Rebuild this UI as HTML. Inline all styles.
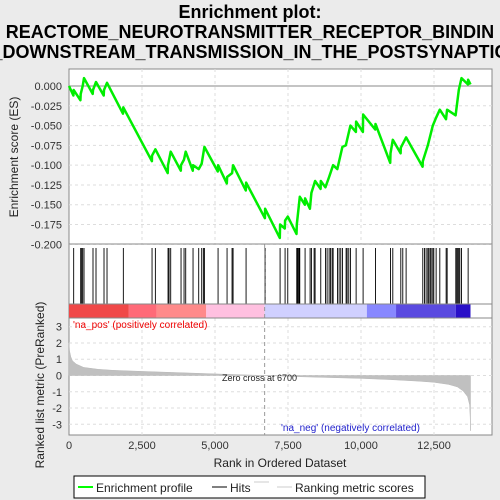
<!DOCTYPE html>
<html><head><meta charset="utf-8"><style>
html,body{margin:0;padding:0;background:#ebebeb;}
svg{display:block;font-family:"Liberation Sans",sans-serif;}
</style></head><body>
<svg id="chart" width="500" height="500" xmlns="http://www.w3.org/2000/svg">
<rect x="0" y="0" width="500" height="500" fill="#ebebeb"/>
<g font-weight="bold" font-size="18" text-anchor="middle" fill="#000">
<text x="250" y="18">Enrichment plot:</text>
<text x="250" y="38">REACTOME_NEUROTRANSMITTER_RECEPTOR_BINDIN</text>
<text x="250" y="58">_DOWNSTREAM_TRANSMISSION_IN_THE_POSTSYNAPTIC</text>
</g>
<rect x="69" y="69" width="423" height="366" fill="#fff" stroke="#888"/>
<g id="grid"></g>
<g id="es"></g>
<g id="hits"></g>
<g id="cbar"></g>
<g id="metric"></g>
<g id="axes" font-size="11" fill="#333"></g>
<line x1="69" y1="244" x2="492" y2="244" stroke="#888"/>
<line x1="69" y1="304" x2="492" y2="304" stroke="#888"/>
<line x1="69" y1="318" x2="492" y2="318" stroke="#888"/>
<text x="18" y="157" transform="rotate(-90 18 157)" font-size="12" text-anchor="middle" fill="#222">Enrichment score (ES)</text>
<text x="44" y="385" transform="rotate(-90 44 385)" font-size="12" text-anchor="middle" fill="#222">Ranked list metric (PreRanked)</text>
<text x="280" y="467" font-size="12" text-anchor="middle" fill="#222">Rank in Ordered Dataset</text>
<text x="73" y="328" font-size="10" fill="#e00">'na_pos' (positively correlated)</text>
<text x="281" y="431" font-size="10" fill="#22c">'na_neg' (negatively correlated)</text>
<text x="222" y="381" font-size="9" fill="#222">Zero cross at 6700</text>
<g>
<rect x="74" y="476" width="351" height="22" fill="#fff" stroke="#000"/>
<line x1="78" y1="487" x2="93" y2="487" stroke="#0f0" stroke-width="2"/>
<text x="96" y="492" font-size="12" fill="#222">Enrichment profile</text>
<line x1="212" y1="487" x2="227" y2="487" stroke="#000"/>
<text x="230" y="492" font-size="12" fill="#222">Hits</text>
<line x1="254" y1="482" x2="269" y2="482" stroke="#ccc"/>
<line x1="277" y1="487" x2="292" y2="487" stroke="#ccc"/>
<text x="295" y="492" font-size="12" fill="#222">Ranking metric scores</text>
</g>
</svg>
<script>
const esRanks=[0,150,160,390,400,434,468,514,810,822,925,1190,1199,1302,1850,1861,2840,2844,2958,3380,3392,3483,3830,3837,3940,3997,4240,4248,4442,4545,4637,5095,5105,5405,5413,5584,5619,6055,6064,6710,6715,7220,7229,7390,7400,7492,7790,7800,7903,8080,8085,8250,8302,8428,8615,8622,8782,8908,9045,9190,9364,9480,9638,9825,9833,10065,10072,10485,10495,11000,11009,11089,11355,11363,11545,12110,12116,12288,12459,12573,12699,12910,12950,13240,13350,13441,13660,13669,13750];
const esValues=[0,-0.012,-0.005,-0.018,-0.010,-0.005,0,0.010,-0.010,-0.005,0.005,-0.012,-0.005,0.004,-0.035,-0.027,-0.095,-0.088,-0.080,-0.110,-0.100,-0.083,-0.107,-0.100,-0.093,-0.083,-0.107,-0.100,-0.105,-0.098,-0.077,-0.108,-0.100,-0.123,-0.115,-0.110,-0.100,-0.132,-0.122,-0.167,-0.155,-0.192,-0.175,-0.180,-0.170,-0.165,-0.187,-0.175,-0.140,-0.150,-0.142,-0.155,-0.135,-0.120,-0.130,-0.120,-0.128,-0.115,-0.100,-0.105,-0.077,-0.075,-0.050,-0.058,-0.045,-0.058,-0.036,-0.055,-0.048,-0.097,-0.085,-0.068,-0.085,-0.078,-0.065,-0.102,-0.095,-0.075,-0.050,-0.040,-0.030,-0.042,-0.030,-0.037,-0.005,0.010,0.002,0.008,0.002];
const hitRanks=[160,400,434,468,514,822,925,1199,1302,1861,2844,2958,3392,3426,3483,3837,3940,3997,4248,4442,4545,4602,4637,5105,5413,5584,5619,6064,6715,7229,7400,7492,7800,7823,7846,7880,7903,8085,8257,8302,8394,8428,8622,8782,8839,8908,8953,9010,9045,9193,9250,9307,9364,9490,9524,9581,9638,9833,10072,10495,11009,11089,11363,11431,11545,12116,12173,12230,12288,12322,12368,12402,12459,12493,12573,12699,12916,12950,13247,13281,13315,13350,13384,13441,13669];
const metricRanks=[0,20,60,120,250,500,1000,1500,2500,3500,4500,5500,6700,8000,9000,10000,11000,12000,12500,13000,13300,13500,13650,13720,13740,13750];
const metricVals=[2.0,1.5,1.15,0.9,0.7,0.5,0.38,0.32,0.25,0.19,0.13,0.07,0,-0.08,-0.13,-0.18,-0.25,-0.35,-0.42,-0.55,-0.7,-0.95,-1.3,-1.8,-2.6,-3.4];
const barStops=[0,2050,3000,4700,6700,10200,11200,13250,13750];
const barColors=["#f04848","#ff6a78","#ff8a8a","#ffc0e0","#d0d0ff","#8888ff","#5a4ae0","#2a10c8"];
const esTicks=[0,-0.025,-0.05,-0.075,-0.1,-0.125,-0.15,-0.175,-0.2];
const esTickLabels=["0.000","-0.025","-0.050","-0.075","-0.100","-0.125","-0.150","-0.175","-0.200"];
const xTicks=[0,2500,5000,7500,10000,12500];
const xTickLabels=["0","2,500","5,000","7,500","10,000","12,500"];
const mTicks=[3,2,1,0,-1,-2,-3];

const NS="http://www.w3.org/2000/svg";
const X=r=>69+r*365/12500;
const YE=v=>86-v*(158.3/0.2);
const YM=v=>375.5-v*16.27;
function mk(tag,attrs,parent){const e=document.createElementNS(NS,tag);for(const k in attrs)e.setAttribute(k,attrs[k]);parent.appendChild(e);return e;}
const grid=document.getElementById('grid'),es=document.getElementById('es'),hits=document.getElementById('hits'),cbar=document.getElementById('cbar'),metric=document.getElementById('metric'),axes=document.getElementById('axes');
// grid
xTicks.forEach(t=>{if(t===0)return;
 let l=mk('line',{x1:X(t),x2:X(t),y1:69,y2:244,stroke:'#ddd','stroke-dasharray':'3,3'},grid);
 
 
 let l2=mk('line',{x1:X(t),x2:X(t),y1:318,y2:435,stroke:'#ddd','stroke-dasharray':'3,3'},grid);
 
 
});
esTicks.forEach((t,i)=>{
 let l=mk('line',{x1:69,x2:492,y1:YE(t),y2:YE(t),stroke:i===0?'#888':'#ddd','stroke-dasharray':i===0?'':'3,3'},grid);
 
 
 let tk=mk('text',{x:62,y:YE(t)+4,'text-anchor':'end'},axes);tk.textContent=esTickLabels[i];
 
 
});
mTicks.forEach(t=>{
 let l=mk('line',{x1:69,x2:492,y1:YM(t),y2:YM(t),stroke:'#ddd','stroke-dasharray':'3,3'},grid);
 
 
 let tk=mk('text',{x:62,y:YM(t)+4,'text-anchor':'end'},axes);tk.textContent=String(t);
 
 
});
xTicks.forEach((t,i)=>{
 let tk=mk('text',{x:X(t),y:449,'text-anchor':'middle'},axes);tk.textContent=xTickLabels[i];
 
 
});
// es curve
let d=esRanks.map((r,i)=>(i?'L':'M')+X(r).toFixed(1)+','+YE(esValues[i]).toFixed(1)).join('');
let p=mk('path',{d:d,fill:'none',stroke:'#00ee00','stroke-width':2.5,'stroke-linejoin':'round'},es);


// hits
hitRanks.forEach(r=>{
 let l=mk('line',{x1:X(r),x2:X(r),y1:248,y2:304,stroke:'#000','stroke-width':0.9},hits);
 
 
});
// color bar
barColors.forEach((c,i)=>{
 let r=mk('rect',{x:X(barStops[i]),y:304.5,width:X(barStops[i+1])-X(barStops[i]),height:13,fill:c},cbar);
 
 
});
// metric area
let md='M'+X(metricRanks[0])+','+YM(0)+metricRanks.map((r,i)=>'L'+X(r).toFixed(1)+','+YM(metricVals[i]).toFixed(1)).join('')+'L'+X(metricRanks[metricRanks.length-1])+','+YM(0)+'Z';
let ma=mk('path',{d:md,fill:'#c0c0c0',stroke:'#b8b8b8','stroke-width':0.5},metric);


let zl=mk('line',{x1:X(6700),x2:X(6700),y1:244,y2:435,stroke:'#999','stroke-dasharray':'4,3'},metric);


</script>
</body></html>
